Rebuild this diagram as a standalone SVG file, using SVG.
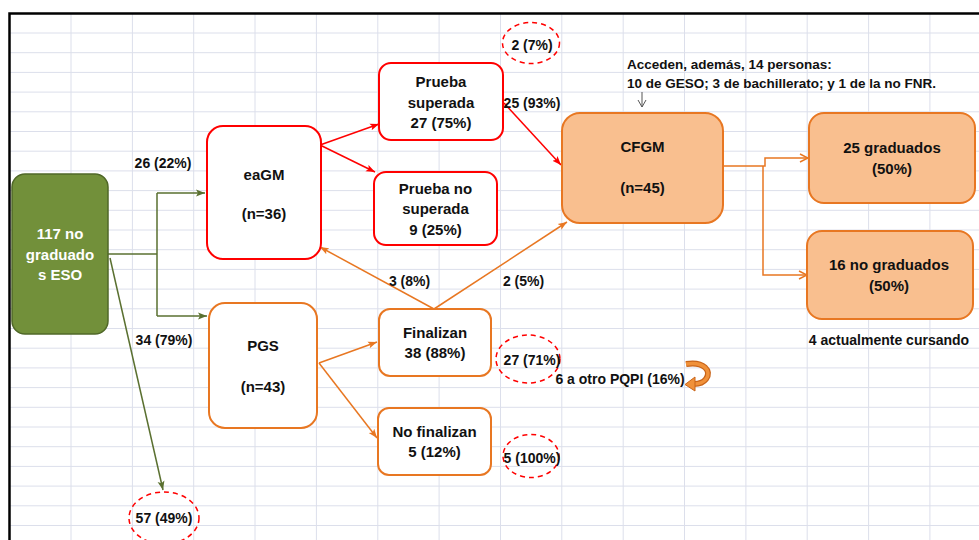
<svg xmlns="http://www.w3.org/2000/svg" width="979" height="540" viewBox="0 0 979 540">
<defs>
<style>
.grid{stroke:#dcdfeb;stroke-width:1}
.t{font-family:"Liberation Sans",Arial,sans-serif;font-weight:bold;fill:#111;text-anchor:middle}
.b{font-size:15px}
.l{font-size:14px}
.w{fill:#fff}
.red{fill:#fff;stroke:#ff0000;stroke-width:2}
.org{fill:#fff;stroke:#e87722;stroke-width:2}
.orgf{fill:#f9bf8f;stroke:#e87722;stroke-width:2}
.grn{fill:#72903a;stroke:#506828;stroke-width:1.5}
.cr{fill:none;stroke:#ff0000;stroke-width:1.5}
.co{fill:none;stroke:#e87722;stroke-width:1.5}
.cg{fill:none;stroke:#5a7030;stroke-width:1.5}
.dash{fill:none;stroke:#ff0000;stroke-width:1.5;stroke-dasharray:5 4}
</style>
<marker id="ar" markerWidth="10" markerHeight="8" refX="9" refY="4" orient="auto" markerUnits="userSpaceOnUse"><path d="M0,0.5 L9,4 L0,7.5 L2,4 Z" fill="#ff0000"/></marker>
<marker id="ao" markerWidth="10" markerHeight="8" refX="9" refY="4" orient="auto" markerUnits="userSpaceOnUse"><path d="M0,0.5 L9,4 L0,7.5 L2,4 Z" fill="#e87722"/></marker>
<marker id="aoo" markerWidth="10" markerHeight="10" refX="9" refY="5" orient="auto" markerUnits="userSpaceOnUse"><path d="M1,1 L9,5 L1,9" fill="none" stroke="#e87722" stroke-width="1.5"/></marker>
<marker id="ag" markerWidth="10" markerHeight="8" refX="9" refY="4" orient="auto" markerUnits="userSpaceOnUse"><path d="M0,0.5 L9,4 L0,7.5 L2,4 Z" fill="#5a7030"/></marker>
<marker id="ak" markerWidth="10" markerHeight="10" refX="8" refY="5" orient="auto" markerUnits="userSpaceOnUse"><path d="M1,1 L8,5 L1,9" fill="none" stroke="#555" stroke-width="1"/></marker>
</defs>
<rect width="979" height="540" fill="#fff"/>
<g id="grid" class="grid">
<path d="M71 13V540M132.4 13V540M193.7 13V540M255 13V540M316.4 13V540M377.8 13V540M439.1 13V540M500.5 13V540M561.8 13V540M623.2 13V540M684.5 13V540M745.9 13V540M807.2 13V540M868.6 13V540M929.9 13V540"/>
<path d="M9 33H979M9 52.7H979M9 72.4H979M9 92.1H979M9 111.8H979M9 131.5H979M9 151.2H979M9 170.9H979M9 190.6H979M9 210.3H979M9 230H979M9 249.7H979M9 269.4H979M9 289.1H979M9 308.8H979M9 328.5H979M9 348.2H979M9 367.9H979M9 387.6H979M9 407.3H979M9 427H979M9 446.7H979M9 466.4H979M9 486.1H979M9 505.8H979M9 525.5H979"/>
</g>
<path d="M9.5 540V13.5H979" fill="none" stroke="#000" stroke-width="2.5"/>
<g id="connectors">
<path class="cg" d="M108 254H157" stroke-width="2.5"/>
<path class="cg" d="M157 193V316M157 193H205" marker-end="url(#ag)"/>
<path class="cg" d="M157 316H207" marker-end="url(#ag)"/>
<path class="cg" d="M110 258L163 490" marker-end="url(#ag)"/>
<path class="cr" d="M320 145L379 124" marker-end="url(#ar)"/>
<path class="cr" d="M320 145L375 172" marker-end="url(#ar)"/>
<path class="cr" d="M504 103L561 165" marker-end="url(#ar)"/>
<path class="co" d="M434 309L320 247" marker-end="url(#ao)"/>
<path class="co" d="M434 309L567 222" marker-end="url(#ao)"/>
<path class="co" d="M319 363L377 342" marker-end="url(#ao)"/>
<path class="co" d="M319 363L377 438" marker-end="url(#ao)"/>
<path class="co" d="M723 166H765V158H808" marker-end="url(#aoo)"/>
<path class="co" d="M763 166V275H807" marker-end="url(#aoo)"/>
<path d="M642 92V107" fill="none" stroke="#555" stroke-width="1" marker-end="url(#ak)"/>
</g>
<g id="n117"><rect class="grn" x="12" y="174" width="96" height="160" rx="13"/>
<text class="t b w" x="60" y="239">117 no</text><text class="t b w" x="60" y="260">graduado</text><text class="t b w" x="60" y="280">s ESO</text></g>
<g id="eaGM"><rect class="red" x="207" y="126" width="114" height="133" rx="16"/>
<text class="t b" x="264" y="180">eaGM</text><text class="t b" x="264" y="219">(n=36)</text></g>
<g id="PGS"><rect class="org" x="209" y="303" width="108" height="125" rx="16"/>
<text class="t b" x="263" y="351">PGS</text><text class="t b" x="263" y="392">(n=43)</text></g>
<g id="superada"><rect class="red" x="379" y="63" width="124" height="77" rx="12"/>
<text class="t b" x="441" y="87">Prueba</text><text class="t b" x="441" y="107.5">superada</text><text class="t b" x="441" y="128">27 (75%)</text></g>
<g id="nosuperada"><rect class="red" x="374" y="172" width="123" height="73" rx="12"/>
<text class="t b" x="435.5" y="194">Prueba no</text><text class="t b" x="435.5" y="214">superada</text><text class="t b" x="435.5" y="235">9 (25%)</text></g>
<g id="finalizan"><rect class="org" x="379" y="309" width="112" height="67" rx="11"/>
<text class="t b" x="435" y="338">Finalizan</text><text class="t b" x="435" y="358">38 (88%)</text></g>
<g id="nofinalizan"><rect class="org" x="378" y="408" width="113" height="67" rx="11"/>
<text class="t b" x="434.5" y="437">No finalizan</text><text class="t b" x="434.5" y="457">5 (12%)</text></g>
<g id="CFGM"><rect class="orgf" x="562" y="113" width="161" height="110" rx="18"/>
<text class="t b" x="642.5" y="152">CFGM</text><text class="t b" x="642.5" y="193">(n=45)</text></g>
<g id="graduados"><rect class="orgf" x="809" y="113" width="166" height="90" rx="15"/>
<text class="t b" x="892" y="153">25 graduados</text><text class="t b" x="892" y="174">(50%)</text></g>
<g id="nograduados"><rect class="orgf" x="807" y="231" width="166" height="88" rx="15"/>
<text class="t b" x="889" y="270">16 no graduados</text><text class="t b" x="889" y="291">(50%)</text></g>
<g id="e57"><ellipse class="dash" cx="164" cy="518" rx="35" ry="26"/><text class="t l" x="164" y="523">57 (49%)</text></g>
<g id="e2"><ellipse class="dash" cx="531" cy="43" rx="28.5" ry="20.5"/><text class="t l" x="532" y="50">2 (7%)</text></g>
<g id="e27"><ellipse class="dash" cx="528" cy="359" rx="32" ry="24"/><text class="t l" x="532" y="365">27 (71%)</text></g>
<g id="e5"><ellipse class="dash" cx="531" cy="456" rx="28" ry="21.5"/><text class="t l" x="532" y="463">5 (100%)</text></g>
<g id="labels">
<text class="t l" x="163" y="168">26 (22%)</text>
<text class="t l" x="164" y="345">34 (79%)</text>
<text class="t l" x="409.5" y="286">3 (8%)</text>
<text class="t l" x="523.5" y="286">2 (5%)</text>
<text class="t l" x="532" y="108">25 (93%)</text>
<text class="t l" x="620" y="384">6 a otro PQPI (16%)</text>
<text class="t l" x="889" y="345">4 actualmente cursando</text>
<text class="t" style="font-size:13.5px;text-anchor:start" x="627" y="69">Acceden, además, 14 personas:</text>
<text class="t" style="font-size:13.5px;text-anchor:start" x="627" y="88">10 de GESO; 3 de bachillerato; y 1 de la no FNR.</text>
</g>
<g id="uturn">
<path d="M686 364 C704 361 712 371 706 379 C703 383 698 384 694 384" fill="none" stroke="#c9651a" stroke-width="6"/>
<path d="M686 364 C704 361 712 371 706 379 C703 383 698 384 694 384" fill="none" stroke="#f0913a" stroke-width="3.5"/>
<path d="M695 377 L685 384.5 L695 391 Z" fill="#f0913a" stroke="#c9651a" stroke-width="1"/>
</g>
</svg>
